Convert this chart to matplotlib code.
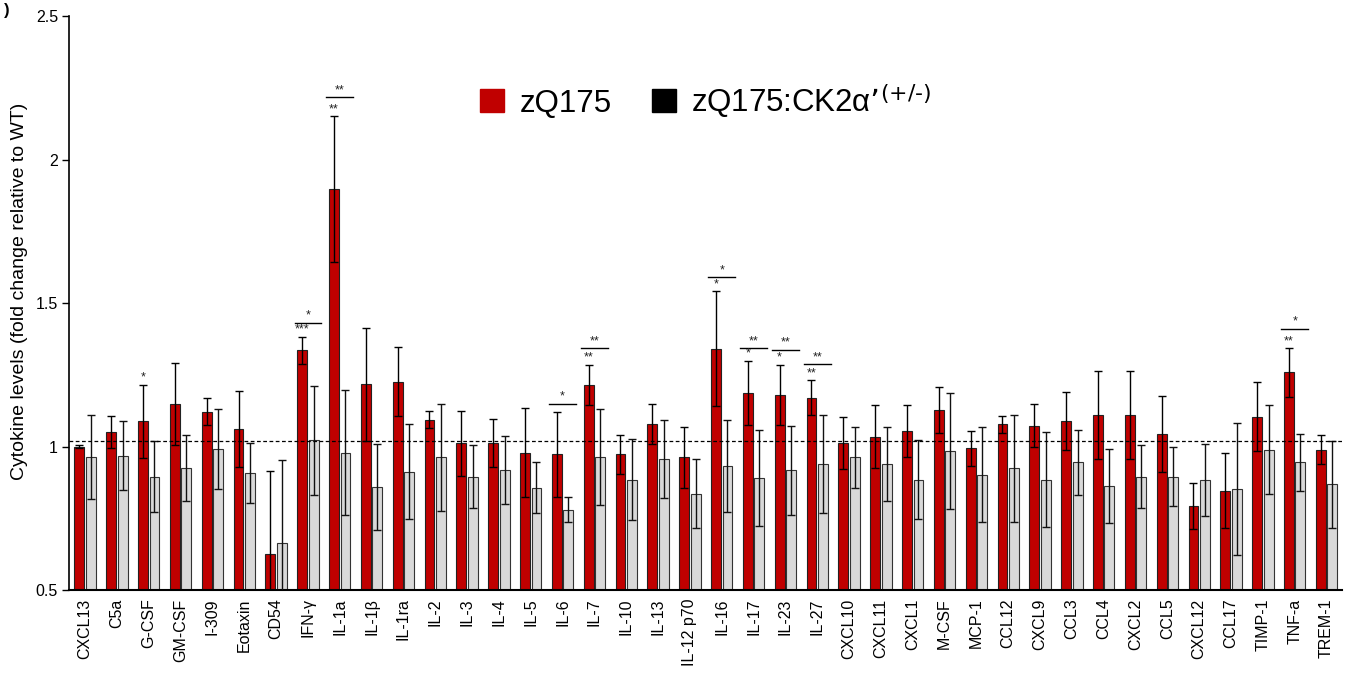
import numpy as np
import matplotlib
matplotlib.use('Agg')
import matplotlib.pyplot as plt
from matplotlib.patches import Patch
matplotlib.rcParams['font.family'] = ['Liberation Sans', 'DejaVu Sans']

cytokines = ['CXCL13', 'C5a', 'G-CSF', 'GM-CSF', 'I-309', 'Eotaxin', 'CD54', 'IFN-γ',
             'IL-1a', 'IL-1β', 'IL-1ra', 'IL-2', 'IL-3', 'IL-4', 'IL-5', 'IL-6', 'IL-7',
             'IL-10', 'IL-13', 'IL-12 p70', 'IL-16', 'IL-17', 'IL-23', 'IL-27', 'CXCL10',
             'CXCL11', 'CXCL1', 'M-CSF', 'MCP-1', 'CCL12', 'CXCL9', 'CCL3', 'CCL4', 'CXCL2',
             'CCL5', 'CXCL12', 'CCL17', 'TIMP-1', 'TNF-a', 'TREM-1']
zq175 = [1.00, 1.052, 1.089, 1.150, 1.122, 1.061, 0.626, 1.336, 1.898, 1.217, 1.226, 1.094,
         1.012, 1.012, 0.979, 0.973, 1.215, 0.973, 1.078, 0.963, 1.342, 1.187, 1.181, 1.171,
         1.012, 1.034, 1.055, 1.128, 0.995, 1.078, 1.073, 1.089, 1.111, 1.111, 1.044, 0.792,
         0.847, 1.105, 1.259, 0.990]
zq175_err = [0.005, 0.055, 0.127, 0.143, 0.047, 0.133, 0.288, 0.047, 0.253, 0.198, 0.120, 0.030,
             0.113, 0.084, 0.156, 0.149, 0.071, 0.069, 0.069, 0.107, 0.200, 0.113, 0.105, 0.060,
             0.090, 0.110, 0.090, 0.080, 0.061, 0.030, 0.074, 0.100, 0.154, 0.154, 0.132, 0.080,
             0.130, 0.120, 0.085, 0.052]
ck2 = [0.963, 0.968, 0.896, 0.924, 0.991, 0.907, 0.665, 1.022, 0.979, 0.858, 0.913, 0.963,
       0.896, 0.918, 0.857, 0.780, 0.963, 0.885, 0.957, 0.836, 0.934, 0.891, 0.918, 0.940,
       0.963, 0.940, 0.885, 0.985, 0.902, 0.924, 0.885, 0.945, 0.863, 0.896, 0.896, 0.885,
       0.852, 0.990, 0.945, 0.869]
ck2_err = [0.147, 0.120, 0.124, 0.115, 0.140, 0.105, 0.287, 0.190, 0.217, 0.150, 0.165, 0.187,
           0.110, 0.119, 0.088, 0.044, 0.168, 0.140, 0.135, 0.121, 0.160, 0.167, 0.155, 0.171,
           0.107, 0.130, 0.138, 0.203, 0.165, 0.187, 0.165, 0.113, 0.130, 0.110, 0.104, 0.125,
           0.231, 0.154, 0.100, 0.152]
# stars over zQ175 bar (vs WT)
stars_red = {'G-CSF': '*', 'IFN-γ': '***', 'IL-1a': '**', 'IL-7': '**', 'IL-16': '*',
             'IL-17': '*', 'IL-23': '*', 'IL-27': '**', 'TNF-a': '**'}
# brackets zQ175 vs zQ175:CK2a' (label, height)
brackets = {'IFN-γ': ('*', 1.431), 'IL-1a': ('**', 2.218), 'IL-6': ('*', 1.15),
            'IL-7': ('**', 1.343), 'IL-16': ('*', 1.59), 'IL-17': ('**', 1.343),
            'IL-23': ('**', 1.337), 'IL-27': ('**', 1.287), 'TNF-a': ('*', 1.41)}
wt_line = 1.02

red = '#c00000'
grey = '#d9d9d9'

fig = plt.figure(figsize=(13.56, 6.76), dpi=100)
ax = fig.add_axes([0.051, 0.127, 0.939, 0.849])
x = np.arange(len(cytokines))
w = 0.31
off = 0.18
ax.bar(x - off, zq175, w, color=red, edgecolor='#222222', linewidth=0.8, zorder=2)
ax.bar(x + off, ck2, w, color=grey, edgecolor='#333333', linewidth=0.8, zorder=2)
ax.errorbar(x - off, zq175, yerr=zq175_err, fmt='none', ecolor='black', elinewidth=1,
            capsize=3, capthick=1, zorder=3)
ax.errorbar(x + off, ck2, yerr=ck2_err, fmt='none', ecolor='#111111', elinewidth=1,
            capsize=3, capthick=1, zorder=3)
ax.axhline(wt_line, color='black', linestyle=(0, (3, 2)), linewidth=0.9, zorder=4)

for name, s in stars_red.items():
    i = cytokines.index(name)
    ax.text(i - off, zq175[i] + zq175_err[i] + 0.003, s, ha='center', va='bottom',
            fontsize=9, color='#222222')
for name, (s, h) in brackets.items():
    i = cytokines.index(name)
    ax.plot([i - 0.42, i + 0.42], [h, h], color='black', linewidth=1)
    ax.text(i, h + 0.004, s, ha='center', va='bottom', fontsize=9, color='#222222')

ax.set_xlim(-0.5, len(cytokines) - 0.5)
ax.set_ylim(0.5, 2.5)
ax.set_yticks([0.5, 1, 1.5, 2, 2.5])
ax.set_yticklabels(['0.5', '1', '1.5', '2', '2.5'], fontsize=11.5)
ax.set_xticks(x)
ax.set_xticklabels(cytokines, rotation=90, fontsize=11.5)
ax.tick_params(axis='x', length=0, pad=6)
ax.tick_params(axis='y', direction='out', length=5, width=1, pad=3)
ax.spines['top'].set_visible(False)
ax.spines['right'].set_visible(False)
ax.spines['left'].set_linewidth(1.2)
ax.spines['bottom'].set_linewidth(1.5)
ax.set_ylabel('Cytokine levels (fold change relative to WT)', fontsize=14, labelpad=3)
ax.yaxis.set_label_coords(-0.032, 0.521)

handles = [Patch(facecolor=red, edgecolor=red),
           Patch(facecolor='black', edgecolor='black')]
ax.legend(handles, ['zQ175', "zQ175:CK2α’$^{\\text{(+/-)}}$"], loc='upper center',
          bbox_to_anchor=(0.5, 0.935), ncol=2, frameon=False, fontsize=22.5,
          handlelength=0.75, handleheight=0.75, handletextpad=0.5, columnspacing=1.3)

fig.text(0.003, 0.985, ')', fontsize=12, fontweight='bold', va='center', ha='left')

plt.savefig('out.png', dpi=100)
